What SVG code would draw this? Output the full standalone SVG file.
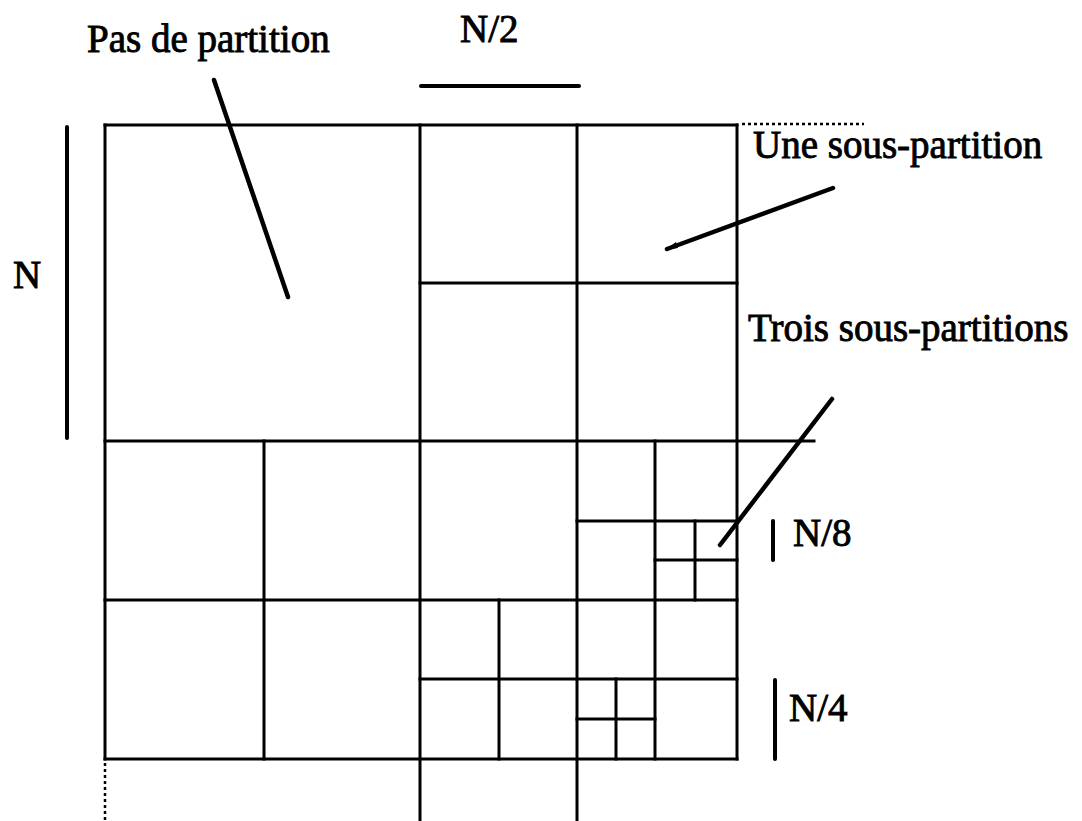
<svg xmlns="http://www.w3.org/2000/svg" width="1082" height="821" viewBox="0 0 1082 821">
<style>
.g{stroke:#000;stroke-width:3;fill:none;stroke-linecap:square}
.bar{stroke:#000;stroke-width:4;fill:none;stroke-linecap:round}
.lead{stroke:#000;stroke-width:4.5;fill:none;stroke-linecap:round}
.dot{stroke:#000;stroke-width:2.5;fill:none;stroke-dasharray:3 3}
.t{font-family:"Liberation Serif","Times New Roman",serif;font-size:39px;fill:#000;stroke:#000;stroke-width:0.9}
</style>
<rect width="1082" height="821" fill="#fff"/>
<g id="grid">
<line class="g" x1="105" y1="125" x2="737" y2="125"/>
<line class="g" x1="420" y1="283" x2="737" y2="283"/>
<line class="g" x1="105" y1="441" x2="814" y2="441"/>
<line class="g" x1="577" y1="521" x2="737" y2="521"/>
<line class="g" x1="655" y1="560" x2="737" y2="560"/>
<line class="g" x1="105" y1="600" x2="737" y2="600"/>
<line class="g" x1="420" y1="679" x2="737" y2="679"/>
<line class="g" x1="577" y1="719" x2="655" y2="719"/>
<line class="g" x1="105" y1="759" x2="737" y2="759"/>
<line class="g" x1="105" y1="125" x2="105" y2="759"/>
<line class="g" x1="264" y1="441" x2="264" y2="759"/>
<line class="g" x1="420" y1="125" x2="420" y2="821"/>
<line class="g" x1="577" y1="125" x2="577" y2="821"/>
<line class="g" x1="737" y1="125" x2="737" y2="759"/>
<line class="g" x1="499" y1="600" x2="499" y2="759"/>
<line class="g" x1="655" y1="441" x2="655" y2="759"/>
<line class="g" x1="695" y1="521" x2="695" y2="600"/>
<line class="g" x1="616" y1="679" x2="616" y2="759"/>
<line class="dot" x1="742" y1="124" x2="864" y2="124"/>
<line class="dot" x1="105" y1="763" x2="105" y2="821"/>
</g>
<g id="scales">
<line class="bar" x1="421" y1="86" x2="579" y2="86"/>
<line class="bar" x1="67" y1="127" x2="67" y2="438"/>
<line class="bar" x1="773" y1="521" x2="773" y2="560"/>
<line class="bar" x1="775" y1="680" x2="775" y2="759"/>
</g>
<g id="connectors">
<line class="lead" x1="214" y1="80" x2="288" y2="297"/>
<line class="lead" x1="833" y1="188" x2="667" y2="249"/>
<polygon points="665,250 676,242 678,248" fill="#000"/>
<line class="lead" x1="832" y1="399" x2="720" y2="545"/>
</g>
<g id="labels">
<text class="t" x="87" y="52">Pas de partition</text>
<text class="t" x="460" y="42">N/2</text>
<text class="t" x="13" y="288">N</text>
<text class="t" x="753" y="158">Une sous-partition</text>
<text class="t" x="748" y="341">Trois sous-partitions</text>
<text class="t" x="793" y="546">N/8</text>
<text class="t" x="789" y="721">N/4</text>
</g>
</svg>
